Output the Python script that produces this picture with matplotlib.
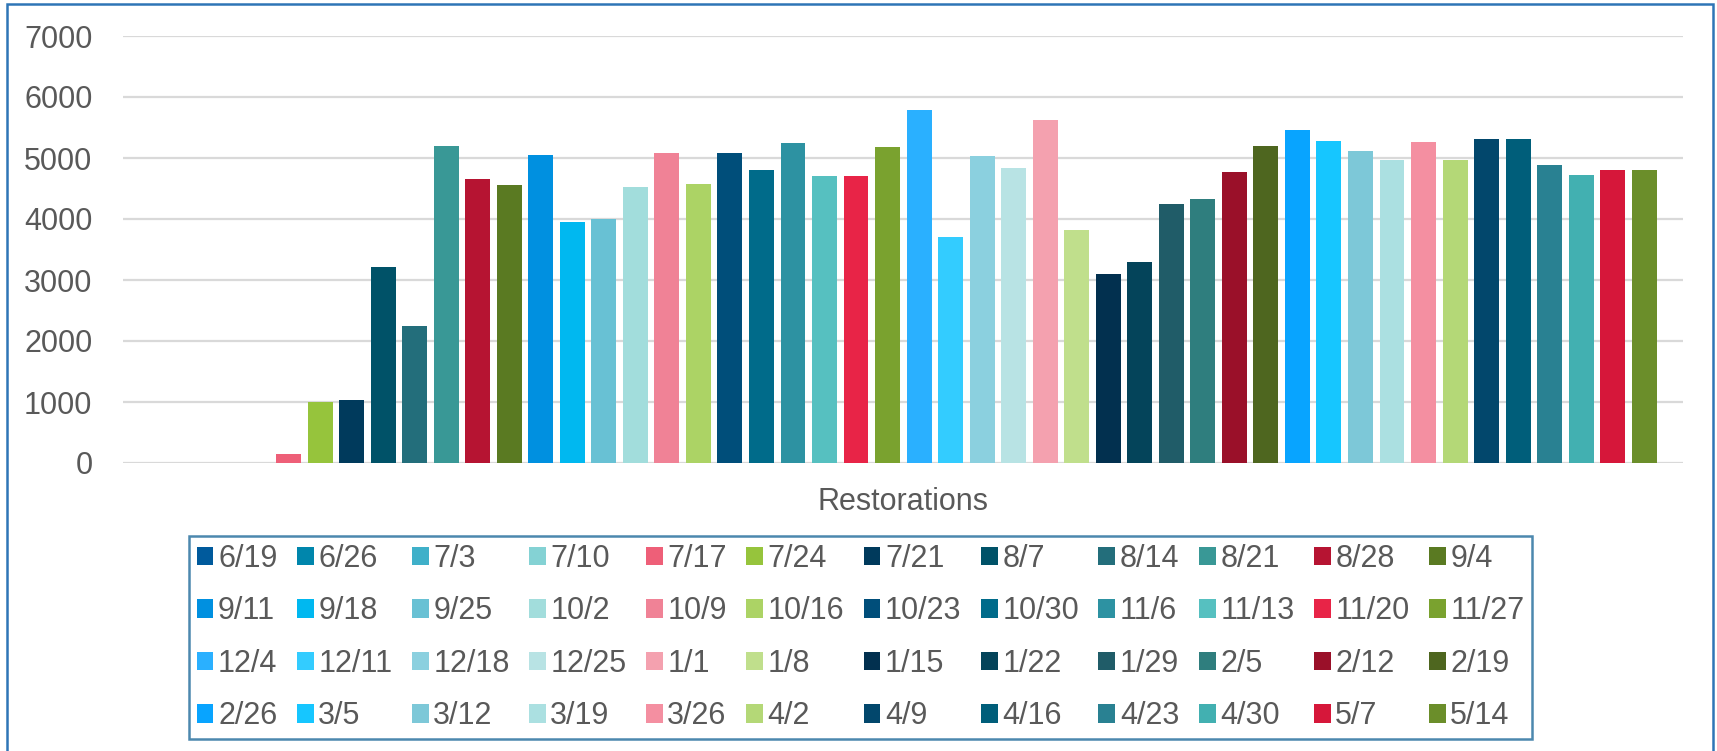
import numpy as np
import matplotlib
matplotlib.use("Agg")
import matplotlib.pyplot as plt
from matplotlib.patches import Rectangle

plt.rcParams['font.family'] = ['Liberation Sans', 'DejaVu Sans']

weeks = ['6/19', '6/26', '7/3', '7/10', '7/17', '7/24', '7/21', '8/7', '8/14', '8/21', '8/28', '9/4',
         '9/11', '9/18', '9/25', '10/2', '10/9', '10/16', '10/23', '10/30', '11/6', '11/13', '11/20', '11/27',
         '12/4', '12/11', '12/18', '12/25', '1/1', '1/8', '1/15', '1/22', '1/29', '2/5', '2/12', '2/19',
         '2/26', '3/5', '3/12', '3/19', '3/26', '4/2', '4/9', '4/16', '4/23', '4/30', '5/7', '5/14']

restorations = [0, 0, 0, 0, 140, 1000, 1040, 3210, 2250, 5190, 4650, 4555,
                5045, 3950, 4000, 4520, 5080, 4570, 5080, 4800, 5240, 4700, 4700, 5175,
                5780, 3705, 5030, 4835, 5620, 3820, 3100, 3295, 4245, 4325, 4765, 5195,
                5455, 5275, 5110, 4965, 5260, 4965, 5305, 5305, 4880, 4720, 4800, 4800]

colors = ['#005A9C', '#0086AC', '#3FB0C9', '#84D2D4', '#EE5F78', '#96C43C',
          '#003A5C', '#005268', '#236E7B', '#399896', '#B61432', '#5A7A22',
          '#0090E0', '#00B8F0', '#68C1D4', '#A2DDDC', '#F08296', '#ACD365',
          '#004E7A', '#006B8A', '#2D92A2', '#56C0C0', '#E82447', '#7AA22F',
          '#2AB0FF', '#33CCFF', '#8BD0DF', '#B8E3E4', '#F4A1AF', '#C0DF8C',
          '#02304F', '#04445A', '#205C68', '#2F7E7E', '#9A1029', '#4E661F',
          '#08A4FF', '#16C6FF', '#7DC8D8', '#ABE0E1', '#F48FA1', '#B4D877',
          '#02476C', '#005E7A', '#298192', '#42B0B1', '#D6173A', '#6B8E2A']

W, H = 1717, 751
fig = plt.figure(figsize=(W / 100, H / 100), dpi=100)
ax = fig.add_axes([123 / W, 1 - 463 / H, (1683 - 123) / W, (463 - 36) / H])

text_c = '#595959'
x = np.arange(len(weeks))
bars = []
for i in range(len(weeks)):
    b = ax.bar(x[i], restorations[i], width=0.79, color=colors[i], label=weeks[i], zorder=3)
    bars.append(b)

ax.set_xlim(-1.25, 48.23)
ax.set_ylim(0, 7000)
ax.set_yticks(np.arange(0, 7001, 1000))
ax.set_xticks([])
ax.yaxis.grid(True, color='#D9D9D9', linewidth=1.6, zorder=0)
ax.set_axisbelow(True)
for s in ax.spines.values():
    s.set_visible(False)
ax.tick_params(axis='y', length=0, pad=22, labelsize=22, labelcolor=text_c)

fig.text(903 / W, 1 - 502 / H, 'Restorations', ha='center', va='center', fontsize=22, color=text_c)

# legend: excel fills row-wise, matplotlib column-wise -> reorder
order = [r * 12 + j for j in range(12) for r in range(4)]
leg = fig.legend([bars[k] for k in order], [weeks[k] for k in order],
                 ncol=12, mode='expand', loc='upper left',
                 bbox_to_anchor=(189 / W, 1 - 737 / H, (1532 - 189) / W, (737 - 536) / H),
                 fontsize=22, frameon=True, fancybox=False,
                 handlelength=0.55, handleheight=0.55, handletextpad=0.15,
                 labelspacing=0.74, borderpad=0.25, borderaxespad=0, columnspacing=0.3)
for t in leg.get_texts():
    t.set_color(text_c)
leg.get_frame().set_edgecolor('#1F6A9A')
leg.get_frame().set_linewidth(1.8)

# outer chart border
fig.patches.append(Rectangle((7 / W, -0.05), (1713 - 7) / W, 1.05 - 4 / H,
                             transform=fig.transFigure, fill=False,
                             edgecolor='#2E75B6', linewidth=1.8))

fig.savefig('out.png', dpi=100)
